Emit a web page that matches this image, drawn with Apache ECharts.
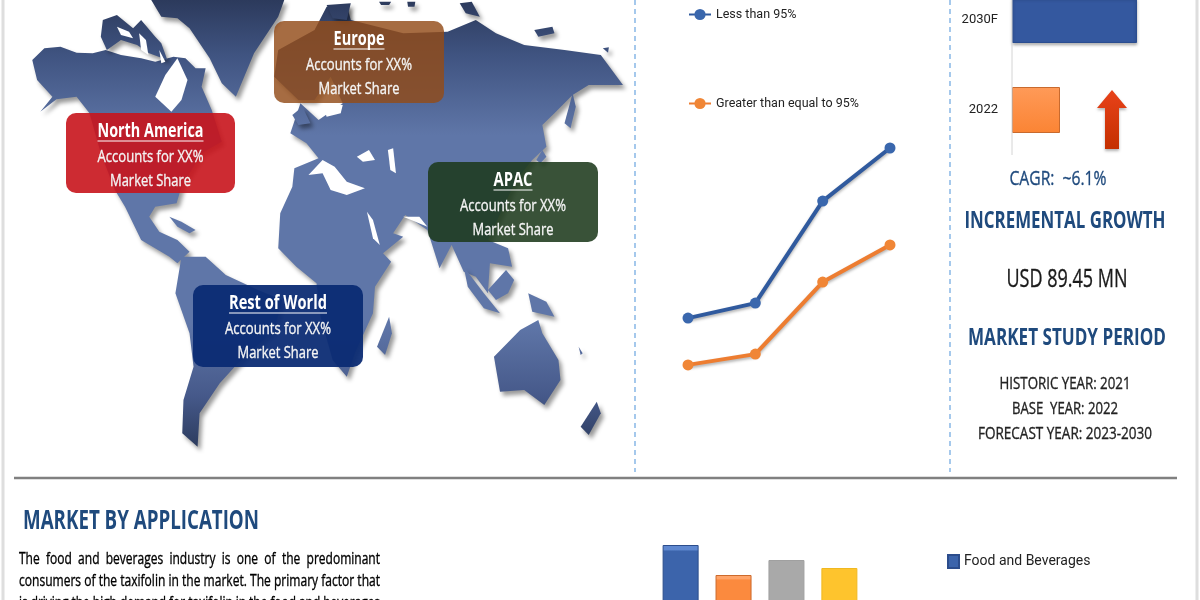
<!DOCTYPE html>
<html>
<head>
<meta charset="utf-8">
<title>Taxifolin market</title>
<script src="https://cdn.jsdelivr.net/npm/echarts@6/dist/echarts.min.js"></script>
<style>
html, body { margin: 0; padding: 0; background: #fff; }
#main { width: 1200px; height: 600px; }
</style>
</head>
<body>
<div id="main"></div>
<script>
// purity line chart
var purityYears = ['2021', '2022', '2023', '2030F'];
var lessThan95 = [2.73, 3.23, 6.63, 8.4];
var greaterEq95 = [1.17, 1.53, 3.93, 5.17];

// market size bars
var sizeYears = ['2022', '2030F'];
var sizeValues = [24, 62.5];

// application bars
var appNames = ['Food and Beverages', 'Aromatherapy', 'Pharmaceuticals', 'Others'];
var appValues = [155, 125, 140, 132];
var appColors = ['#3c64ab', '#fb8a3e', '#a9a9a9', '#fec42d'];
var appTops = ['#5f88d0', '#ffa469', '#a9a9a9', '#fec42d'];
var appEdges = ['#2c4d8c', '#cc6a2c', '#a0a0a0', '#f0b820'];

var regionBoxes = [
    { name: 'Europe', color: 'rgba(146,76,24,0.82)', x: 274, y: 21, w: 170, h: 82 },
    { name: 'North America', color: 'rgba(200,20,28,0.9)', x: 66, y: 113, w: 169, h: 80 },
    { name: 'APAC', color: 'rgba(30,58,28,0.88)', x: 428, y: 162, w: 170, h: 80 },
    { name: 'Rest of World', color: 'rgba(10,42,115,0.94)', x: 193, y: 285, w: 170, h: 82 }
];

var NARROW = 'Roboto, sans-serif';
var HEAD = '"Open Sans", sans-serif';
var NAVY = '#1f4a7d';

var ctx = document.createElement('canvas').getContext('2d');

// text squeezed to a given width, the source uses a narrow face
function txt(str, x, y, size, color, width, bold, align) {
    var font = (bold ? 'bold ' : '') + size + 'px ' + HEAD;
    ctx.font = font;
    var sx = width ? width / ctx.measureText(str).width : 1;
    return {
        type: 'text', x: x, y: y, scaleX: sx, z: 20,
        style: {
            text: str, font: font, fill: color, align: align || 'center', verticalAlign: 'middle',
            stroke: bold ? null : color, lineWidth: bold ? 0 : 0.35
        }
    };
}

function vline(x, y1, y2, color, w, dash) {
    return {
        type: 'line', z: 5,
        shape: { x1: x, y1: y1, x2: x, y2: y2 },
        style: { stroke: color, lineWidth: w, lineDash: dash || null }
    };
}

function hline(x1, x2, y, color, w) {
    return {
        type: 'line', z: 21,
        shape: { x1: x1, y1: y, x2: x2, y2: y },
        style: { stroke: color, lineWidth: w }
    };
}

// outlines below are in zoomed picture units, see land()
var landFill = new echarts.graphic.LinearGradient(0, 0, 0, 450, [
    { offset: 0, color: '#2c3a5c' },
    { offset: 0.12, color: '#3f5380' },
    { offset: 0.3, color: '#5f76a8' },
    { offset: 0.72, color: '#5f76a8' },
    { offset: 0.88, color: '#46598a' },
    { offset: 1, color: '#2b3a5c' }
], true);

function land(pts) {
    return {
        type: 'polygon', z: 2,
        shape: { points: pts.map(function (p) { return [p[0] / 2.48, p[1] / 3]; }) },
        style: { fill: landFill, shadowColor: 'rgba(0,0,0,0.4)', shadowBlur: 4, shadowOffsetX: 3, shadowOffsetY: 4 }
    };
}

function water(pts) {
    return {
        type: 'polygon', z: 3,
        shape: { points: pts.map(function (p) { return [p[0] / 2.48, p[1] / 3]; }) },
        style: { fill: '#fff' }
    };
}

var mapShapes = [
    // north america
    land([[80,180],[110,145],[150,140],[190,158],[230,160],[262,150],[300,165],[350,175],[385,185],[430,170],[460,175],[485,205],[510,205],[500,260],[525,330],[550,425],[500,460],[450,560],[438,610],[385,620],[370,650],[395,695],[440,720],[470,755],[440,790],[420,770],[350,720],[310,620],[285,570],[250,460],[222,340],[190,290],[140,298],[100,335],[130,290],[92,240]]),
    land([[255,60],[290,45],[330,85],[350,60],[385,110],[400,130],[415,180],[370,160],[340,135],[300,120],[265,150],[250,110]]),
    land([[375,0],[705,0],[690,50],[630,160],[585,290],[550,250],[520,175],[470,85],[440,55],[400,50]]),
    land([[420,650],[450,665],[485,690],[470,700],[440,680]]),
    // south america
    land([[435,880],[450,770],[510,770],[560,825],[640,870],[700,900],[680,990],[590,1090],[545,1150],[495,1240],[490,1340],[452,1300],[455,1200],[480,1100],[470,1000]]),
    // eurasia and africa
    land([[810,20],[860,15],[870,60],[1000,100],[1110,95],[1180,60],[1230,100],[1300,135],[1400,150],[1490,165],[1545,255],[1460,255],[1420,285],[1375,340],[1345,375],[1355,440],[1320,480],[1280,540],[1210,720],[1260,745],[1270,800],[1215,790],[1210,880],[1180,830],[1150,815],[1120,735],[1090,805],[1060,690],[1005,645],[975,700],[1000,710],[950,760],[970,785],[930,860],[925,940],[880,1060],[860,1130],[825,1080],[795,950],[785,850],[735,800],[690,745],[695,640],[725,560],[730,505],[790,475],[760,430],[720,400],[745,310],[790,360],[850,310],[820,230],[780,300],[740,300],[680,230],[690,150],[780,90]]),
    // islands
    land([[1150,800],[1200,880],[1240,940],[1200,925],[1160,860]]),
    land([[1210,870],[1255,810],[1275,840],[1260,880],[1230,900]]),
    land([[1310,880],[1355,905],[1375,950],[1320,935]]),
    land([[1225,1070],[1290,990],[1335,960],[1345,1000],[1385,1080],[1390,1140],[1350,1215],[1300,1170],[1240,1175]]),
    land([[935,1040],[965,950],[972,1000],[955,1065]]),
    land([[1440,1280],[1480,1205],[1490,1240],[1460,1305]]),
    land([[1400,370],[1420,280],[1428,320],[1415,385]]),
    land([[1330,480],[1345,450],[1355,470],[1340,490]]),
    land([[725,345],[750,320],[770,370],[740,375]]),
    land([[810,15],[870,10],[860,60],[825,55]]),
    land([[1325,90],[1370,80],[1375,100],[1335,110]]),
    land([[1140,10],[1170,5],[1190,50],[1155,40]]),
    land([[940,5],[970,5],[965,15],[945,15]]),
    land([[1010,5],[1030,5],[1028,20],[1012,20]]),
    land([[1495,145],[1510,142],[1508,158]]),
    land([[1435,1040],[1445,1060],[1440,1065]]),
    // inland seas and bays
    water([[385,290],[410,225],[440,175],[465,240],[450,300],[425,335]]),
    water([[345,100],[362,120],[368,165],[350,150]]),
    water([[290,80],[320,95],[330,115],[300,105]]),
    water([[395,150],[410,185],[400,190]]),
    water([[765,525],[800,480],[830,500],[860,545],[905,565],[860,585],[820,570],[800,520]]),
    water([[885,470],[915,450],[930,480],[900,485]]),
    water([[962,450],[975,445],[982,520],[968,510]]),
    water([[910,635],[925,660],[942,735],[925,715]]),
    water([[800,310],[850,315],[845,340],[810,350]]),
    water([[1000,650],[1060,680],[1040,650]])
];

function regionGraphics(b) {
    var cx = b.x + b.w / 2;
    var titleWidth = { 'Europe': 51, 'North America': 106, 'APAC': 39, 'Rest of World': 98 }[b.name];
    return [
        {
            type: 'rect', z: 10,
            shape: { x: b.x, y: b.y, width: b.w, height: b.h, r: 10 },
            style: { fill: b.color }
        },
        txt(b.name, cx, b.y + 18, 20, '#fff', titleWidth, true),
        hline(cx - titleWidth / 2, cx + titleWidth / 2, b.y + 28, '#fff', 1),
        txt('Accounts for XX%', cx, b.y + 44, 17, '#f4f4f4', 106),
        txt('Market Share', cx, b.y + 68, 17, '#f4f4f4', 81)
    ];
}

var arrow = {
    type: 'polygon', z: 6,
    shape: { points: [[1112, 90], [1127, 108], [1119, 108], [1119, 149], [1105, 149], [1105, 108], [1097, 108]] },
    style: {
        fill: new echarts.graphic.LinearGradient(0, 0, 0, 1, [
            { offset: 0, color: '#e8421a' },
            { offset: 1, color: '#c43000' }
        ]),
        shadowColor: 'rgba(0,0,0,0.3)', shadowBlur: 3, shadowOffsetY: 2
    }
};

var graphics = [
    vline(3, 0, 600, '#dedede', 3),
    vline(1197, 0, 600, '#dedede', 3),
    vline(635, 0, 472, '#6aa5df', 1.2, [5, 4]),
    vline(950, 0, 472, '#6aa5df', 1.2, [5, 4]),
    vline(1012, 0, 155, '#d4d4d4', 1),
    { type: 'line', z: 5, shape: { x1: 14, y1: 478, x2: 1177, y2: 478 }, style: { stroke: '#808080', lineWidth: 2.5 } },
    arrow,
    txt('CAGR:  ~6.1%', 1058, 179, 20, NAVY, 97, false),
    txt('INCREMENTAL GROWTH', 1065, 221, 24, NAVY, 201, true),
    txt('USD 89.45 MN', 1067, 280, 26, '#1a1a1a', 121, false),
    txt('MARKET STUDY PERIOD', 1067, 338, 24, NAVY, 198, true),
    txt('HISTORIC YEAR: 2021', 1065, 384, 17, '#222', 131),
    txt('BASE  YEAR: 2022', 1065, 409, 17, '#222', 106),
    txt('FORECAST YEAR: 2023-2030', 1065, 434, 17, '#222', 174),
    txt('MARKET BY APPLICATION', 23, 522, 26, NAVY, 236, true, 'left'),
    txt('The  food  and  beverages  industry  is  one  of  the  predominant', 19, 559, 16, '#000', 361, false, 'left'),
    txt('consumers of the taxifolin in the market. The primary factor that', 19, 581, 16, '#000', 361, false, 'left'),
    txt('is driving the high demand for taxifolin in the food and beverages', 19, 603, 16, '#000', 361, false, 'left')
].concat(mapShapes);

regionBoxes.forEach(function (b) {
    graphics = graphics.concat(regionGraphics(b));
});

var appSeries = appNames.map(function (name, i) {
    return {
        name: name,
        type: 'bar',
        xAxisIndex: 2,
        yAxisIndex: 2,
        barWidth: 36,
        barGap: '47%',
        data: [appValues[i]],
        itemStyle: {
            color: new echarts.graphic.LinearGradient(0, 0, 0, 1, [
                { offset: 0, color: appTops[i] },
                { offset: 0.03, color: appTops[i] },
                { offset: 0.04, color: appColors[i] },
                { offset: 1, color: appColors[i] }
            ]),
            borderColor: appEdges[i],
            borderWidth: 1
        }
    };
});

var option = {
    animation: false,
    backgroundColor: '#fff',
    textStyle: { fontFamily: NARROW },
    graphic: { elements: graphics },
    legend: [
        {
            data: ['Less than 95%'], left: 683, top: 3,
            itemWidth: 22, itemHeight: 14,
            textStyle: { fontFamily: NARROW, fontSize: 12.5, color: '#222' }
        },
        {
            data: ['Greater than equal to 95%'], left: 683, top: 92,
            itemWidth: 22, itemHeight: 14,
            textStyle: { fontFamily: NARROW, fontSize: 12.5, color: '#222' }
        },
        {
            data: appNames, orient: 'vertical', left: 942, top: 549, height: 300, icon: 'rect',
            itemWidth: 11, itemHeight: 13, itemGap: 31,
            textStyle: { fontFamily: NARROW, fontSize: 14, color: '#222' }
        }
    ],
    grid: [
        { left: 688, top: 100, width: 202, height: 300, outerBoundsMode: 'none' },
        { left: 1012, top: -25, width: 200, height: 180, outerBoundsMode: 'none' },
        { left: 660, top: 500, width: 200, height: 200, outerBoundsMode: 'none' }
    ],
    xAxis: [
        {
            gridIndex: 0, type: 'category', data: purityYears, boundaryGap: false,
            axisLine: { show: false }, axisTick: { show: false }, axisLabel: { show: false }
        },
        { gridIndex: 1, type: 'value', min: 0, max: 100, show: false },
        {
            gridIndex: 2, type: 'category', data: ['Application'],
            axisLine: { show: false }, axisTick: { show: false }, axisLabel: { show: false }
        }
    ],
    yAxis: [
        { gridIndex: 0, type: 'value', min: 0, max: 10, show: false },
        {
            gridIndex: 1, type: 'category', data: sizeYears,
            axisLine: { show: false }, axisTick: { show: false },
            axisLabel: { fontFamily: NARROW, fontSize: 13, color: '#222', margin: 14 }
        },
        { gridIndex: 2, type: 'value', min: 0, max: 200, show: false }
    ],
    series: [
        {
            name: 'Less than 95%', type: 'line', data: lessThan95,
            symbol: 'circle', symbolSize: 11,
            lineStyle: { color: '#305a9e', width: 4, shadowColor: 'rgba(0,0,0,0.3)', shadowBlur: 3, shadowOffsetY: 2 },
            itemStyle: { color: '#3a67ad' }
        },
        {
            name: 'Greater than equal to 95%', type: 'line', data: greaterEq95,
            symbol: 'circle', symbolSize: 11,
            lineStyle: { color: '#ed7d31', width: 4, shadowColor: 'rgba(0,0,0,0.3)', shadowBlur: 3, shadowOffsetY: 2 },
            itemStyle: { color: '#f08636' }
        },
        {
            type: 'bar', xAxisIndex: 1, yAxisIndex: 1, barWidth: 46, data: [
                {
                    value: sizeValues[0],
                    itemStyle: {
                        color: new echarts.graphic.LinearGradient(0, 0, 0, 1, [
                            { offset: 0, color: '#ff9a58' },
                            { offset: 1, color: '#fb8434' }
                        ]),
                        borderColor: '#c86a2e', borderWidth: 1
                    }
                },
                {
                    value: sizeValues[1],
                    itemStyle: {
                        color: '#34589f', borderColor: '#2a4d90', borderWidth: 1,
                        shadowColor: 'rgba(0,0,0,0.3)', shadowBlur: 3, shadowOffsetY: 2
                    }
                }
            ]
        }
    ].concat(appSeries)
};

var chart = echarts.init(document.getElementById('main'));
chart.setOption(option);
</script>
</body>
</html>
